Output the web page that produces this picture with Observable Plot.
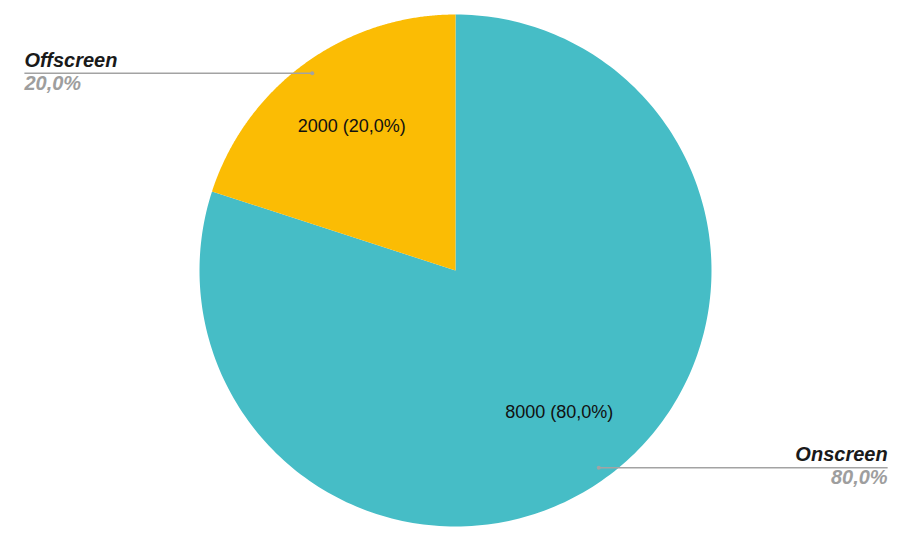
<!DOCTYPE html>
<html>
<head>
<meta charset="utf-8">
<script src="https://cdn.jsdelivr.net/npm/d3@7"></script>
<script src="https://cdn.jsdelivr.net/npm/@observablehq/plot@0.6"></script>
<style>
  html, body { margin: 0; padding: 0; background: #fff; }
  #chart { width: 902px; height: 546px; }
</style>
</head>
<body>
<div id="chart"></div>
<script>
const categories = ["Onscreen", "Offscreen"];
const values = [8000, 2000];
const colors = ["#46BDC6", "#FBBC04"];

const total = d3.sum(values);
const pct = v => (v / total * 100).toFixed(1).replace(".", ",") + "%";

// pie layout: clockwise from 12 o'clock, Onscreen first
const arcs = d3.pie().sort(null)(values);

const slicePts = [];
arcs.forEach((a, i) => {
  const n = 240;
  slicePts.push({cat: categories[i], x: 0, y: 0});
  for (let k = 0; k <= n; k++) {
    const t = a.startAngle + (a.endAngle - a.startAngle) * k / n;
    slicePts.push({cat: categories[i], x: Math.sin(t), y: Math.cos(t)});
  }
  slicePts.push({cat: categories[i], x: 0, y: 0});
});

const info = arcs.map((a, i) => {
  const m = (a.startAngle + a.endAngle) / 2;
  const side = Math.sin(m) < 0 ? "left" : "right";
  return {
    cat: categories[i],
    value: values[i],
    inLabel: values[i] + " (" + pct(values[i]) + ")",
    pctLabel: pct(values[i]),
    ix: 0.69 * Math.sin(m), iy: 0.69 * Math.cos(m),
    ax: 0.952 * Math.sin(m), ay: 0.952 * Math.cos(m),
    side
  };
});

// leader line end positions (in data units: radius = 1)
const leftEnd = -1.684, rightEnd = 1.688;
info.forEach(d => { d.ex = d.side === "left" ? leftEnd : rightEnd; });
const leftInfo = info.filter(d => d.side === "left");
const rightInfo = info.filter(d => d.side === "right");

const textFont = "Liberation Sans, Arial, sans-serif";
const outer = {fontSize: 20, fontWeight: "bold", fontStyle: "italic", fontFamily: textFont};

const chart = Plot.plot({
  width: 902,
  height: 546,
  margin: 0,
  x: {domain: [-1, 1], range: [199, 711], axis: null},
  y: {domain: [-1, 1], range: [526, 14], axis: null},
  color: {domain: categories, range: colors},
  style: {fontFamily: textFont, background: "#fff"},
  marks: [
    Plot.line(slicePts, {x: "x", y: "y", z: "cat", fill: "cat", stroke: null, curve: "linear"}),
    Plot.link(info, {x1: "ax", y1: "ay", x2: "ex", y2: "ay", stroke: "#a3a3a3", strokeWidth: 1.5}),
    Plot.dot(info, {x: "ax", y: "ay", r: 2, fill: "#a3a3a3"}),
    Plot.text(info, {x: "ix", y: "iy", text: "inLabel", dy: -1, fontSize: 18, fill: "#111", fontFamily: textFont}),
    Plot.text(leftInfo, {x: "ex", y: "ay", text: "cat", dy: -13, textAnchor: "start", fill: "#1a1a1a", ...outer}),
    Plot.text(leftInfo, {x: "ex", y: "ay", text: "pctLabel", dy: 10, textAnchor: "start", fill: "#9e9e9e", ...outer}),
    Plot.text(rightInfo, {x: "ex", y: "ay", text: "cat", dy: -13, textAnchor: "end", fill: "#1a1a1a", ...outer}),
    Plot.text(rightInfo, {x: "ex", y: "ay", text: "pctLabel", dy: 10, textAnchor: "end", fill: "#9e9e9e", ...outer})
  ]
});
document.getElementById("chart").appendChild(chart);
</script>
</body>
</html>
